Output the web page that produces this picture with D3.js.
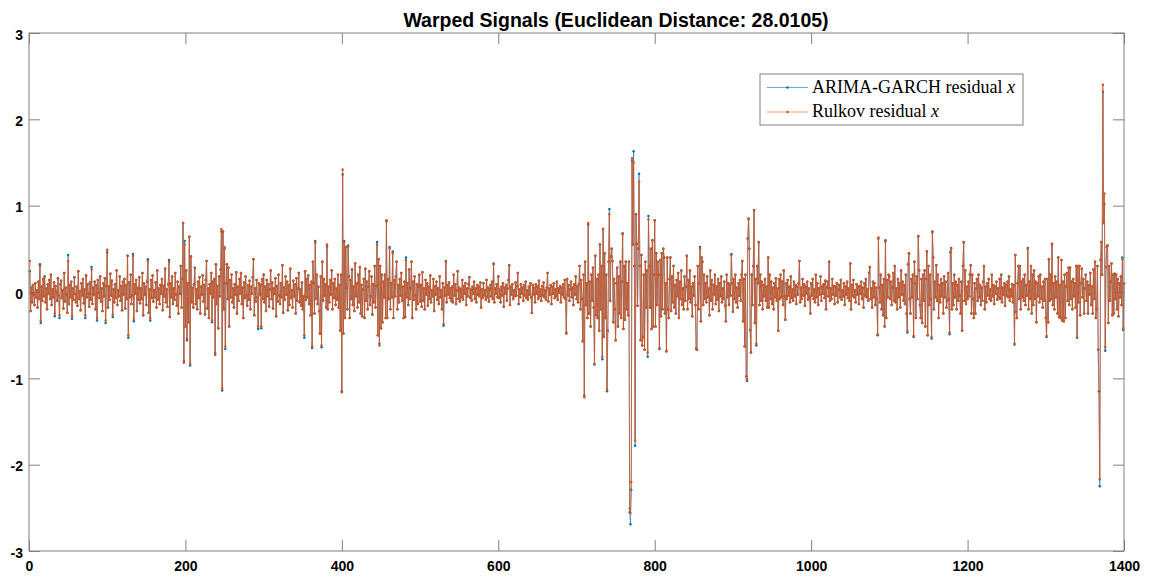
<html>
<head>
  <title>Warped Signals</title>
  <script src='https://d3js.org/d3.v7.min.js'></script>
  <style>
  body { margin: 0; background: #fff; }
  svg { display: block; }
  .tick text { font-family: 'Liberation Sans', Arial, sans-serif; font-weight: bold; font-size: 14px; fill: #000; }
  .tick line { stroke: #808080; }
  </style>
</head>
<body>
  <script>

// residuals in hundredths, sample index 1..1400
var rulkov = [
  36,-22,5,-12,8,-3,-15,10,-6,2,-18,12,-8,30,-33,6,-10,15,-5,18,
  -12,4,-20,9,-2,14,-8,20,-15,3,-6,11,-25,7,0,-10,16,-4,-27,9,
  13,-7,2,-19,22,-11,5,-3,-24,36,-14,8,-6,12,-28,4,-9,17,-2,-12,
  6,-16,24,-8,1,-21,10,-4,15,-13,3,-27,19,-6,9,-2,-17,11,-9,26,
  -14,5,-3,12,-20,8,-30,14,-1,-7,18,-11,4,-22,10,-5,16,-33,7,49,
  -18,6,-9,21,-4,13,-26,3,-12,9,-7,25,-15,2,-5,18,-10,7,-21,12,
  -3,15,-19,8,-8,42,-50,11,-6,20,-14,-4,42,-31,9,-2,14,-22,5,-9,
  17,-13,4,-8,22,-27,10,-3,6,-15,12,36,-24,3,-30,14,-7,19,-11,2,
  -6,11,-18,25,-9,4,-14,8,-2,15,-21,7,-5,27,-12,3,-17,9,35,-29,
  10,-6,18,-14,4,-9,22,-3,-16,12,-25,6,-2,30,-18,15,80,-82,55,-40,
  25,-54,10,-35,64,-83,41,-12,5,-18,9,28,-14,3,-20,12,-7,17,-25,6,
  -3,19,-11,8,-26,14,36,-19,4,-30,9,-2,22,-33,12,-6,15,-73,32,-14,
  7,-42,18,-5,26,73,-112,70,-20,52,-63,10,32,-8,28,-40,14,-6,20,-12,
  4,-18,9,-3,23,-25,6,-10,15,-2,22,-14,5,-30,11,-7,18,-4,-16,8,
  -9,13,-20,6,-2,17,38,-27,4,-11,14,-6,-40,10,-3,8,-40,15,-8,20,
  -12,6,-22,14,-5,9,-17,3,25,-8,11,-19,4,-2,16,-28,7,-11,20,-4,
  -14,10,-6,31,-24,5,-9,18,-3,12,-21,8,-15,27,-7,2,-18,13,-5,9,
  -25,16,-10,4,22,-12,3,-16,11,-20,-5,-50,24,-9,15,-6,19,-14,8,-27,
  12,-63,35,10,-25,57,-8,20,-14,6,-22,-48,18,-62,35,-10,15,-4,9,-18,
  55,-20,6,-12,14,-3,25,-20,10,-7,15,-15,4,-9,20,-18,8,-45,20,-116,
  142,-48,57,-30,52,5,-20,52,18,-30,14,-8,26,-15,6,-22,33,-5,10,-18,
  20,-12,29,-25,8,-28,3,15,-30,27,-10,12,-20,6,24,-15,-5,18,-26,9,
  -12,30,-18,7,55,-50,38,-62,30,-42,20,-35,12,-6,20,-30,83,-30,15,-8,
  50,-20,10,-6,45,-30,14,-5,18,35,-20,8,-12,15,-4,22,-10,6,-30,12,
  -29,37,-6,10,-15,26,-8,4,35,-30,12,-9,18,-4,-20,9,-14,6,20,-11,
  8,-17,23,-10,4,-20,14,-3,10,-16,6,-8,19,-12,2,-5,15,-22,7,-3,
  12,-9,4,-14,18,-6,2,-20,10,-37,5,-4,35,-12,8,-3,11,-7,4,-10,
  6,-12,20,-4,9,-14,2,24,-8,5,-11,3,-6,14,-9,7,-2,10,-15,4,
  -5,9,17,-7,3,-10,6,-2,12,-8,4,-12,8,-3,6,-5,11,-18,3,-7,
  10,-4,2,-9,14,-6,5,-11,3,8,-5,12,-8,32,-12,4,-2,9,-6,18,
  -7,3,-12,6,-4,10,-17,5,-2,8,-10,4,14,31,-15,6,-3,9,-8,2,
  -5,11,-4,7,22,-14,3,-6,9,-2,5,-10,8,-4,12,-7,2,-9,6,-3,
  10,-6,-24,8,-3,5,-12,9,-2,6,-8,13,-5,3,-10,7,-4,11,-6,2,
  -9,5,22,-11,4,-3,8,-14,6,-2,10,-7,3,-5,12,-9,4,-1,7,-12,
  5,-3,9,-6,14,-8,-47,15,-4,8,-10,3,12,-6,5,-15,9,-3,18,-8,
  6,-12,9,30,-20,14,-8,-57,20,-122,35,-15,10,-30,80,-25,12,-40,20,-10,
  28,-18,-83,42,-27,15,-30,20,-45,55,-20,30,-75,73,-52,45,-30,20,-113,-45,
  35,90,-10,41,50,36,-35,15,-20,-56,10,28,-40,18,-25,35,-30,12,67,-43,
  30,-32,35,-20,10,-27,35,-251,-256,-220,155,55,150,30,-172,90,56,-16,50,128,
  30,-56,43,-62,-52,20,-67,35,-18,25,-70,84,30,-18,50,-43,60,-40,20,83,
  -40,45,-15,35,20,-65,37,-28,45,-20,50,40,-25,10,-68,40,-20,-30,15,40,
  -22,18,-12,30,-18,8,-25,14,-5,22,-30,12,-8,25,-15,4,-20,18,-10,6,
  42,-20,14,-8,25,-12,6,-28,10,-4,18,-15,-65,-67,30,-20,10,50,-34,40,
  35,-15,20,-8,10,-12,18,-6,4,-27,25,-10,14,-20,8,-3,20,-14,6,-9,
  15,-22,10,-5,18,-12,4,-8,12,-16,-34,20,-6,10,-15,8,-4,43,10,-23,
  15,-8,20,-12,5,-18,10,-4,14,-10,20,36,-34,15,-63,20,-98,-101,62,84,
  50,-44,-70,20,-15,30,94,-36,15,-60,30,10,57,-15,20,-10,12,-20,8,-5,
  15,-10,6,-18,40,-18,20,-8,12,-14,5,-20,10,-6,16,-10,4,-45,15,-8,
  20,-6,12,-15,25,-5,-32,10,-8,14,-4,6,-12,18,-7,3,-10,12,-5,8,
  -14,6,-3,10,36,-12,5,-8,15,-4,9,-16,6,-2,12,-9,4,-6,-25,10,
  -4,15,-8,3,-12,20,-6,10,-15,4,-3,18,-10,6,-2,9,-7,13,-20,5,
  12,-5,35,-10,4,-8,15,-3,7,-14,6,-4,10,-12,3,8,-6,14,-9,2,
  -5,10,-15,6,-3,12,-7,4,-10,33,-20,8,-4,14,-6,2,-12,9,-3,6,
  -14,7,-2,12,-8,5,-18,10,-4,15,-6,3,-10,22,29,-8,4,-18,12,-6,
  10,-15,5,-8,-49,63,5,-12,20,-20,8,-27,15,-40,58,-30,14,-6,20,18,
  -8,12,-15,5,22,-10,30,-12,4,-20,15,-6,10,-18,25,-3,12,-10,8,-14,
  20,-25,-45,32,45,-8,-25,15,-6,20,-51,35,10,-30,18,-8,64,25,-15,-30,
  15,-36,20,-10,25,-40,15,47,-50,30,-15,20,-8,-52,69,40,-20,12,-6,31,
  -10,20,-30,8,-12,15,-5,10,-25,18,-6,12,-18,-10,22,-8,-47,46,50,-20,
  10,-15,20,-6,12,-20,8,-10,15,-4,-25,12,-45,30,57,-10,25,-14,6,-8,
  12,-5,20,31,-25,20,-8,-30,10,-25,4,15,-10,20,-6,8,-15,5,-10,12,
  30,-20,6,-12,10,-4,15,-8,3,-10,20,-5,8,-14,6,-2,12,-9,4,-6,
  15,-8,20,-12,5,-3,10,-16,8,-4,12,-6,18,-10,3,-5,9,-12,8,-61,
  43,-23,-30,10,30,-8,30,-20,12,-6,15,-10,20,-15,8,-4,50,-20,12,-8,
  30,-25,20,-15,25,-8,12,-35,10,-5,18,-12,20,-8,6,-18,12,-10,15,-30,
  -51,15,-35,38,-10,20,-8,55,-15,10,-20,18,-6,12,-25,40,-29,8,-30,37,
  -33,12,-34,20,-30,6,22,-10,28,-15,28,-8,12,-20,15,-5,10,-18,30,-52,
  30,-12,30,-27,10,27,-6,15,-25,4,20,-10,12,-25,8,-3,22,-15,6,-25,
  26,-8,35,-30,-20,30,-67,-115,-217,37,58,20,240,80,114,-64,29,52,54,-36,
  30,-10,12,33,-27,20,-25,21,-8,20,-20,15,-28,10,-6,18,-15,38,-42,10
];

// samples where the ARIMA-GARCH residual differs from the Rulkov one: [index, hundredths]
var arimaDiffs = [
  [1,24],[14,32],[15,-36],[33,-28],[39,-30],[50,43],[55,-31],[72,-30],[80,29],[87,-33],
  [98,-36],[100,46],[107,-29],[127,-53],[133,44],[134,-34],[152,38],[155,-33],[179,37],[198,-80],
  [199,59],[202,-56],[206,-85],[234,-35],[238,-71],[246,70],[247,-114],[250,50],[251,-66],[293,-43],
  [297,-42],[352,-53],[362,-65],[366,59],[374,-64],[381,53],[400,-115],[401,136],[403,59],[408,54],
  [445,58],[448,-60],[457,82],[461,52],[465,47],[482,40],[530,-39],[533,36],[594,33],[687,-48],
  [710,-120],[715,78],[723,-84],[733,-78],[739,-115],[742,96],[759,68],[768,-255],[769,-269],[770,-229],
  [771,152],[773,163],[775,-178],[780,137],[791,-75],[792,88],[806,-66],[815,-69],[853,-66],[858,52],
  [898,44],[918,-103],[920,85],[927,95],[930,-62],[933,58],[1085,-50],[1086,62],[1095,60],[1123,-47],
  [1131,-52],[1137,65],[1154,-54],[1155,70],[1177,-49],[1179,51],[1195,58],[1260,-60],[1277,51],[1301,-52],
  [1308,56],[1340,-53],[1369,-225],[1373,232],[1375,102],[1376,-68],[1398,40],[1399,-44]
];

var xTicks = [0, 200, 400, 600, 800, 1000, 1200, 1400];
var yTicks = [-3, -2, -1, 0, 1, 2, 3];
var seriesNames = ['ARIMA-GARCH residual ', 'Rulkov residual '];
var seriesColors = ['#0072BD', '#D95319'];
var titleText = 'Warped Signals (Euclidean Distance: 28.0105)';

var width = 1153,
    height = 576;
var margin = {left: 29, right: 29, top: 33, bottom: 25};

var rulkovPts = rulkov.map(function(v, i) { return {x: i + 1, y: v / 100}; });
var arimaPts = rulkovPts.map(function(d) { return {x: d.x, y: d.y}; });
arimaDiffs.forEach(function(d) { arimaPts[d[0] - 1].y = d[1] / 100; });

var svg = d3.select('body')
  .append('svg')
  .attr('width', width)
  .attr('height', height);

var x = d3.scaleLinear()
  .domain([0, 1400])
  .range([margin.left, width - margin.right]);

var y = d3.scaleLinear()
  .domain([-3, 3])
  .range([height - margin.bottom, margin.top]);

// plain integer labels with ascii minus, like matlab
var fmt = function(d) { return String(d); };

// axes: inward ticks on all four sides
var tick = 11;
svg.append('g')
  .attr('transform', 'translate(0,' + (height - margin.bottom) + ')')
  .call(d3.axisBottom(x).tickValues(xTicks).tickSize(-tick).tickPadding(10).tickFormat(fmt))
  .call(function(g) { g.select('.domain').remove(); });
svg.append('g')
  .attr('transform', 'translate(0,' + margin.top + ')')
  .call(d3.axisTop(x).tickValues(xTicks).tickSize(-tick).tickFormat(''))
  .call(function(g) { g.select('.domain').remove(); });
svg.append('g')
  .attr('transform', 'translate(' + margin.left + ',0)')
  .call(d3.axisLeft(y).tickValues(yTicks).tickSize(-tick).tickPadding(6).tickFormat(fmt))
  .call(function(g) { g.select('.domain').remove(); g.selectAll('text').attr('dy', '0.45em'); });
svg.append('g')
  .attr('transform', 'translate(' + (width - margin.right) + ',0)')
  .call(d3.axisRight(y).tickValues(yTicks).tickSize(-tick).tickFormat(''))
  .call(function(g) { g.select('.domain').remove(); });

var line = d3.line()
  .x(function(d) { return x(d.x); })
  .y(function(d) { return y(d.y); });

[arimaPts, rulkovPts].forEach(function(pts, k) {
  var g = svg.append('g');
  g.append('path')
    .datum(pts)
    .attr('fill', 'none')
    .attr('stroke', seriesColors[k])
    .attr('stroke-width', 0.75)
    .attr('stroke-opacity', k ? 1 : 0.8)
    .attr('d', line);
  g.selectAll('circle')
    .data(pts)
    .enter()
    .append('circle')
    .attr('cx', function(d) { return x(d.x); })
    .attr('cy', function(d) { return y(d.y); })
    .attr('r', 1.25)
    .attr('fill', seriesColors[k]);
});

svg.append('rect')
  .attr('x', margin.left)
  .attr('y', margin.top)
  .attr('width', width - margin.left - margin.right)
  .attr('height', height - margin.top - margin.bottom)
  .attr('fill', 'none')
  .attr('stroke', '#808080')
  .attr('stroke-width', 1);

svg.append('text')
  .attr('x', 616)
  .attr('y', 27)
  .attr('text-anchor', 'middle')
  .style('font-family', "'Liberation Sans', Arial, sans-serif")
  .style('font-weight', 'bold')
  .style('font-size', '19.5px')
  .text(titleText);

// legend
var legend = svg.append('g').attr('transform', 'translate(760,74)');
legend.append('rect')
  .attr('width', 263)
  .attr('height', 51)
  .attr('fill', '#fff')
  .attr('stroke', '#808080')
  .attr('stroke-width', 1);

seriesNames.forEach(function(name, k) {
  var ly = 13.5 + k * 24.5;
  legend.append('line')
    .attr('x1', 7).attr('x2', 48)
    .attr('y1', ly).attr('y2', ly)
    .attr('stroke', seriesColors[k])
    .attr('stroke-width', 0.75)
    .attr('stroke-opacity', 0.8);
  legend.append('circle')
    .attr('cx', 27.5).attr('cy', ly).attr('r', 1.25)
    .attr('fill', seriesColors[k]);
  var t = legend.append('text')
    .attr('x', 52)
    .attr('y', ly + 5)
    .style('font-family', "'Liberation Serif', 'Times New Roman', serif")
    .style('font-size', '18px')
    .text(name);
  t.append('tspan').style('font-style', 'italic').text('x');
});

  </script>
</body>
</html>
